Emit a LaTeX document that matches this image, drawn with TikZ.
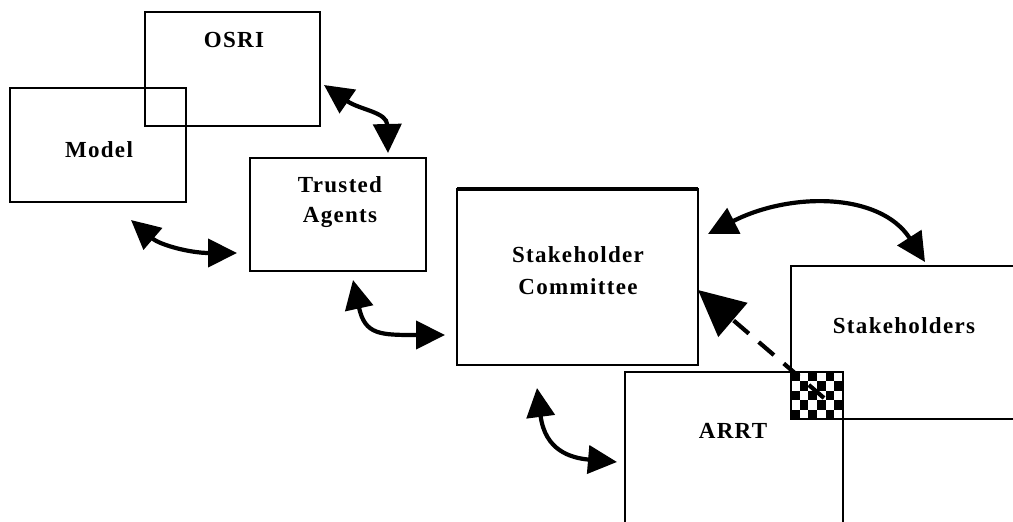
\documentclass[tikz,border=0pt]{standalone}
\usepackage{fontspec}
\setmainfont{Liberation Serif}
\newfontfamily\lblfont{Liberation Serif}[LetterSpace=5.7]
\usetikzlibrary{arrows.meta}
\begin{document}
\begin{tikzpicture}[x=1pt,y=-1pt,
  box/.style={draw,line width=2pt,inner sep=0pt,outer sep=0pt,anchor=north west},
  lbl/.style={font=\lblfont\bfseries\fontsize{23}{26}\selectfont,anchor=base,inner sep=0pt},
  dbl/.style={line width=4.2pt,{Triangle[length=29pt,width=28pt]}-{Triangle[length=29pt,width=28pt]}},
  dsh/.style={line width=4.2pt,dash pattern=on 20pt off 13pt,-{Triangle[length=46pt,width=44pt]}},
]
\useasboundingbox (0,0) rectangle (1013,522);
\clip (0,0) rectangle (1013,522);
% boxes
\node[box,minimum width=175pt,minimum height=114pt] (osri) at (145,12) {};
\node[box,line width=1.6pt,minimum width=176pt,minimum height=114pt] (model) at (10,88) {};
\node[box,line width=1.6pt,minimum width=176pt,minimum height=113pt] (trust) at (250,158) {};
\node[box,minimum width=241pt,minimum height=176pt] (comm) at (457,189) {};
\draw[line width=3.5pt] (comm.north west) -- (comm.north east);
\node[box,minimum width=260pt,minimum height=153pt] (stkh) at (791,266) {};
\node[box,minimum width=218pt,minimum height=200pt] (arrt) at (625,372) {};
% checker in overlap
\foreach \i in {0,...,5}{
  \foreach \j in {0,...,4}{
    \pgfmathtruncatemacro{\cpar}{mod(\i+\j,2)}
    \ifnum\cpar=0
      \fill (791+\i*8.667,372+\j*9.4) rectangle ++(8.667,9.4);
    \fi
  }
}
\draw[line width=2pt] (791,372) rectangle (843,419);
% labels
\node[lbl] (tosri) at (234,47) {OSRI};
\node[lbl] (tmodel) at (99,157) {Model};
\node[lbl] (ttrust) at (340,192) {Trusted};
\node[lbl] (tagents) at (340,222) {Agents};
\node[lbl] (tstake) at (578,262) {Stakeholder};
\node[lbl] (tcomm) at (578,294) {Committee};
\node[lbl] (tstkh) at (904,333) {Stakeholders};
\node[lbl] (tarrt) at (733,438) {ARRT};
% arrow end points
\coordinate (a1s) at (324,85);
\coordinate (a1e) at (388,153);
\coordinate (a2s) at (131,220);
\coordinate (a2e) at (237,253);
\coordinate (a3s) at (353,280);
\coordinate (a3e) at (445,335);
\coordinate (a4s) at (537,388);
\coordinate (a4e) at (617,462);
\coordinate (a5s) at (708,234);
\coordinate (a5e) at (925,262);
\coordinate (a6s) at (824,398);
\coordinate (a6e) at (698,290);
% arrows
\draw[dbl] (a1s) .. controls (360,110) and (387,112) .. (a1e);
\draw[dbl] (a2s) .. controls (160,245) and (190,253) .. (a2e);
\draw[dbl] (a3s) .. controls (365,335) and (380,335) .. (a3e);
\draw[dbl] (a4s) .. controls (545,450) and (570,458) .. (a4e);
\draw[dbl] (a5s) .. controls (790,192) and (880,192) .. (a5e);
\draw[dsh] (a6s) -- (a6e);
\end{tikzpicture}
\end{document}
